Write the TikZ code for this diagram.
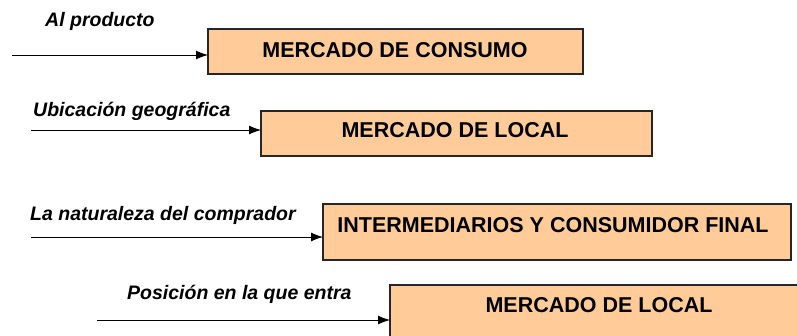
\documentclass[tikz,border=0pt]{standalone}
\usepackage{fontspec}
\setmainfont{Liberation Sans}
\usetikzlibrary{arrows.meta}
\begin{document}
\begin{tikzpicture}[x=1pt,y=-1pt,
  boxstyle/.style={draw=black!85,line width=1.1pt,fill={rgb,255:red,255;green,204;blue,153}},
  boxtext/.style={font=\fontsize{21.5}{25}\selectfont\bfseries,inner sep=0pt},
  lbl/.style={font=\fontsize{19.5}{23}\selectfont\bfseries\itshape,inner sep=0pt,anchor=west},
  conn/.style={line width=0.9pt,-{Latex[length=12pt,width=9pt]}}]
\useasboundingbox (0,0) rectangle (797,335);
\clip (0,0) rectangle (797,335);
% boxes
\draw[boxstyle] (208,29) rectangle (583,74);
\coordinate (b1) at (208,55);
\node[boxtext] (t1) at (395,50) {MERCADO DE CONSUMO};
\draw[boxstyle] (261,111) rectangle (652,156);
\coordinate (b2) at (261,130);
\node[boxtext] (t2) at (455,130) {MERCADO DE LOCAL};
\draw[boxstyle] (323,204) rectangle (791,260);
\coordinate (b3) at (323,237);
\node[boxtext] (t3) at (553,225) {INTERMEDIARIOS Y CONSUMIDOR FINAL};
\draw[boxstyle] (390,285) rectangle (805,345);
\coordinate (b4) at (390,320);
\node[boxtext] (t4) at (599,305) {MERCADO DE LOCAL};
% labels
\node[lbl] (l1) at (45,21) {Al producto};
\node[lbl] (l2) at (33,111) {Ubicación geográfica};
\node[lbl] (l3) at (30,215) {La naturaleza del comprador};
\node[lbl] (l4) at (127,294) {Posición en la que entra};
% arrow starts
\coordinate (s1) at (12,55);
\coordinate (s2) at (31,130);
\coordinate (s3) at (31,237);
\coordinate (s4) at (97,320);
\draw[conn] (s1) -- (b1);
\draw[conn] (s2) -- (b2);
\draw[conn] (s3) -- (b3);
\draw[conn] (s4) -- (b4);
\end{tikzpicture}
\end{document}
